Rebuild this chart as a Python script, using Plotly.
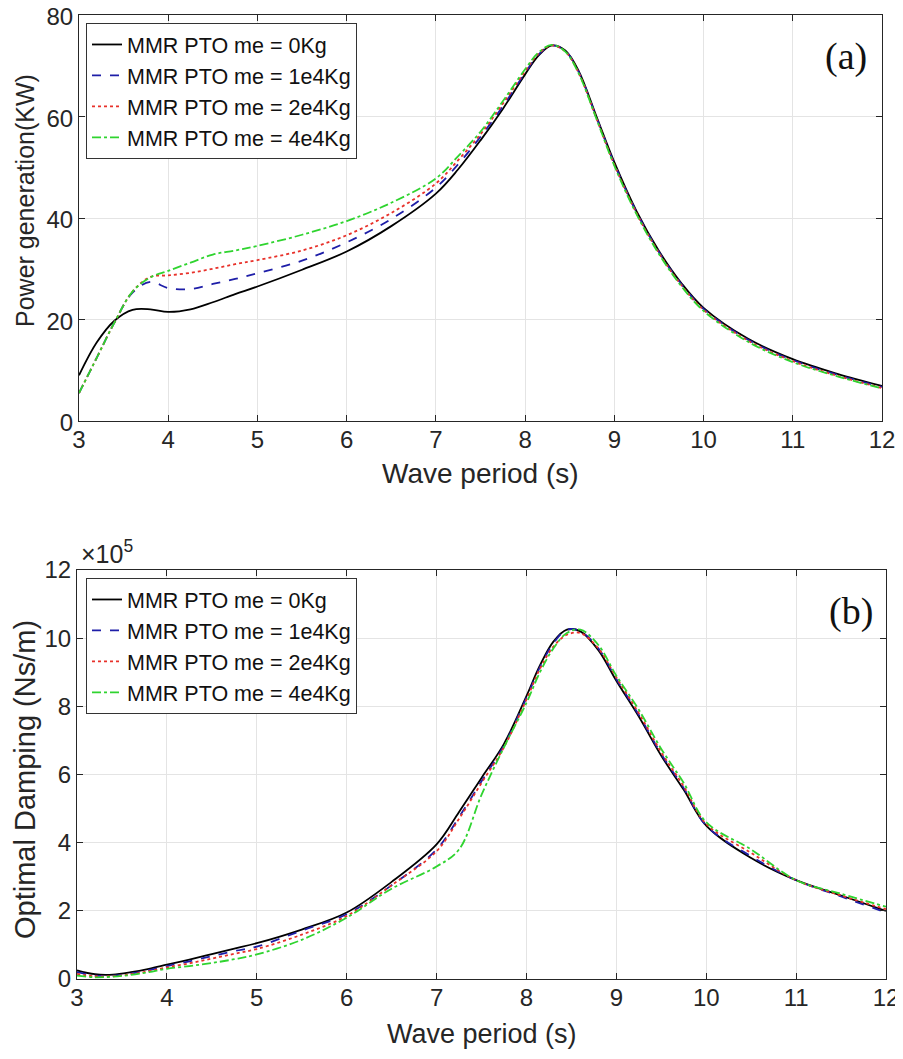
import plotly.graph_objects as go

# ---------------- data ----------------
wave_period = [3.0, 3.2, 3.4, 3.6, 3.8, 4.0, 4.25, 4.5, 4.75, 5.0, 5.5, 6.0, 6.5, 7.0, 7.25,
               7.5, 7.75, 8.0, 8.15, 8.3, 8.45, 8.6, 8.8, 9.0, 9.25, 9.5, 9.75, 10.0, 10.5,
               11.0, 11.5, 12.0]

series_names = ["MMR PTO me = 0Kg", "MMR PTO me = 1e4Kg", "MMR PTO me = 2e4Kg", "MMR PTO me = 4e4Kg"]

# Power generation (KW)
power_0kg = [9.0, 15.5, 19.8, 21.9, 22.0, 21.5, 22.0, 23.4, 25.0, 26.5, 29.8, 33.4, 38.4, 44.8, 49.6,
             55.3, 61.5, 68.3, 72.0, 74.0, 73.0, 69.0, 60.0, 51.0, 41.3, 33.5, 27.2, 22.3, 16.2,
             12.2, 9.3, 6.9]
power_1e4 = [5.5, 12.5, 19.5, 25.3, 27.4, 26.2, 26.0, 27.0, 28.0, 29.1, 31.6, 35.2, 39.8, 46.0, 50.6,
             56.0, 62.0, 68.6, 72.2, 74.0, 72.9, 68.8, 59.8, 50.7, 41.1, 33.3, 27.0, 22.1, 16.0,
             12.0, 9.1, 6.7]
power_2e4 = [5.5, 12.5, 19.5, 25.5, 28.4, 28.7, 29.2, 30.0, 30.9, 31.7, 33.6, 36.6, 41.0, 46.8, 51.4,
             56.5, 62.5, 68.9, 72.4, 74.0, 72.8, 68.6, 59.6, 50.5, 40.9, 33.1, 26.8, 21.9, 15.8,
             11.8, 8.9, 6.5]
power_4e4 = [5.5, 12.5, 19.5, 25.5, 28.3, 29.6, 31.2, 32.8, 33.6, 34.5, 36.7, 39.4, 43.0, 47.8, 52.2,
             57.0, 63.0, 69.3, 72.6, 74.1, 72.8, 68.5, 59.5, 50.3, 40.7, 32.9, 26.6, 21.7, 15.6,
             11.6, 8.8, 6.4]

# Optimal damping (x 1e5 Ns/m)
damp_0kg = [0.25, 0.14, 0.13, 0.20, 0.30, 0.42, 0.57, 0.73, 0.89, 1.05, 1.45, 1.95, 2.85, 3.95, 4.9,
            5.9, 6.9, 8.3, 9.2, 9.9, 10.25, 10.2, 9.65, 8.75, 7.7, 6.55, 5.55, 4.5, 3.55,
            2.9, 2.45, 2.0]
damp_1e4 = [0.20, 0.10, 0.10, 0.16, 0.26, 0.38, 0.52, 0.67, 0.82, 0.95, 1.42, 1.90, 2.75, 3.80, 4.75,
            5.8, 6.85, 8.25, 9.15, 9.85, 10.25, 10.2, 9.7, 8.8, 7.75, 6.6, 5.6, 4.5, 3.6,
            2.9, 2.42, 1.95]
damp_2e4 = [0.15, 0.08, 0.08, 0.14, 0.23, 0.34, 0.46, 0.60, 0.74, 0.88, 1.30, 1.85, 2.75, 3.75, 4.7,
            5.75, 6.8, 8.2, 9.1, 9.75, 10.1, 10.15, 9.7, 8.85, 7.8, 6.65, 5.65, 4.55, 3.7,
            2.9, 2.45, 2.05]
damp_4e4 = [0.10, 0.05, 0.07, 0.12, 0.20, 0.30, 0.38, 0.47, 0.58, 0.72, 1.15, 1.80, 2.65, 3.30, 3.8,
            5.4, 6.8, 8.1, 9.0, 9.7, 10.15, 10.25, 9.8, 8.9, 7.9, 6.75, 5.75, 4.6, 3.8,
            2.9, 2.5, 2.12]

x_ticks = [3, 4, 5, 6, 7, 8, 9, 10, 11, 12]
power_ticks = [0, 20, 40, 60, 80]
damp_ticks = [0, 2, 4, 6, 8, 10, 12]

# ---------------- styling ----------------
colors = ["#000000", "#1e1ea8", "#e8312a", "#2fd42f"]
dashes = ["solid", "dash", "dot", "dashdot"]
FONT = "Liberation Sans, Arial, sans-serif"
SERIF = "Liberation Serif, Times New Roman, serif"
AX = "#262626"

# page offset (browser body margin); keep figure inside the viewport
OFF = 8
W, H = 903 - OFF, 1059 - 2 * OFF

def px(v):
    return v - OFF

# plot rectangles (page pixels of the reference)
A_L, A_R, A_T, A_B = px(79), px(882), px(15), px(421)
B_L, B_R, B_T, B_B = px(77), px(886), px(570), px(979)

L, R, T, B = B_L, W - B_R, A_T, H - B_B
pw = W - L - R
ph = H - T - B

def xf(p):
    return (p - L) / pw

def yf(p):
    return (H - B - p) / ph

fig = go.Figure()

power_series = [power_0kg, power_1e4, power_2e4, power_4e4]
damp_series = [damp_0kg, damp_1e4, damp_2e4, damp_4e4]

for name, ys, c, d in zip(series_names, power_series, colors, dashes):
    fig.add_trace(go.Scatter(x=wave_period, y=ys, name=name, mode="lines",
                             line=dict(color=c, dash=d, width=1.8, shape="spline"),
                             xaxis="x", yaxis="y", legend="legend"))
for name, ys, c, d in zip(series_names, damp_series, colors, dashes):
    fig.add_trace(go.Scatter(x=wave_period, y=ys, name=name, mode="lines",
                             line=dict(color=c, dash=d, width=1.8, shape="spline"),
                             xaxis="x2", yaxis="y2", legend="legend2"))

axis_common = dict(showline=True, mirror="ticks", linecolor=AX, linewidth=1,
                   ticks="inside", ticklen=6, tickcolor=AX, automargin=False,
                   ticklabeloverflow="allow",
                   showgrid=True, gridcolor="#e4e4e4", gridwidth=1, zeroline=False,
                   tickfont=dict(family=FONT, size=24, color=AX))

legend_common = dict(xanchor="left", yanchor="top", bgcolor="white",
                     bordercolor="#333333", borderwidth=1,
                     font=dict(family=FONT, size=21.5, color="#111111"),
                     itemwidth=30, tracegroupgap=0)

fig.update_layout(
    width=W, height=H,
    margin=dict(l=L, r=R, t=T, b=B, autoexpand=False),
    paper_bgcolor="white", plot_bgcolor="white",
    font=dict(family=FONT, color=AX),
    xaxis=dict(axis_common, domain=[xf(A_L), xf(A_R)], anchor="y", range=[3, 12], tickvals=x_ticks,
               ticklabelstandoff=-3),
    yaxis=dict(axis_common, domain=[yf(A_B), yf(A_T)], anchor="x", range=[0, 80], tickvals=power_ticks,
               ticklabelshift=2),
    xaxis2=dict(axis_common, domain=[xf(B_L), xf(B_R)], anchor="y2", range=[3, 12], tickvals=x_ticks,
                ticklabelstandoff=-3),
    yaxis2=dict(axis_common, domain=[yf(B_B), yf(B_T)], anchor="x2", range=[0, 12], tickvals=damp_ticks),
    legend=dict(legend_common, x=xf(px(86)), y=yf(px(23))),
    legend2=dict(legend_common, x=xf(px(86)), y=yf(px(578))),
    showlegend=True,
)

def text_at(text, x_page, y_page, size, family=FONT, angle=0, xanchor="center", yanchor="middle", color=AX):
    fig.add_annotation(text=text, x=xf(px(x_page)), y=yf(px(y_page)), xref="paper", yref="paper",
                       xanchor=xanchor, yanchor=yanchor, showarrow=False, textangle=angle,
                       font=dict(family=family, size=size, color=color))

# axis titles
text_at("Wave period (s)", 480, 473, 28)
text_at("Wave period (s)", 482, 1034, 27)
text_at("Power generation(KW)", 25, 201, 25, angle=-90)
text_at("Optimal Damping (Ns/m)", 25, 780, 29, angle=-90)

# panel labels
text_at("(a)", 846, 57, 38, family=SERIF, color="#111111")
text_at("(b)", 851, 611, 38, family=SERIF, color="#111111")

# exponent label
text_at("×10<sup>5</sup>", 79, 570, 25, xanchor="left", yanchor="bottom")

fig.write_html("out.html")
